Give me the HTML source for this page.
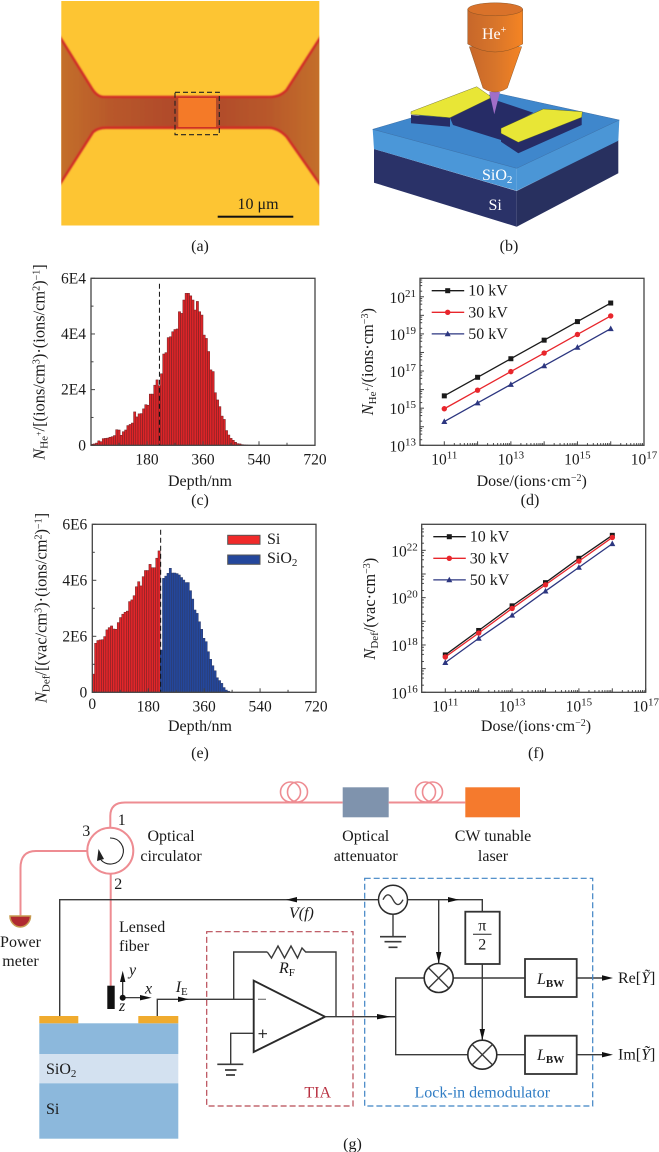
<!DOCTYPE html>
<html>
<head>
<meta charset="utf-8">
<title>Helium ion device figure</title>
<style>
html,body{margin:0;padding:0;background:#fff;}
svg{display:block;position:absolute;left:0;top:0;}
text{font-family:"Liberation Serif","Noto Serif CJK SC",serif;fill:#1a1a1a;font-size:16px;}
.t{font-size:15.5px;}
.i{font-style:italic;}
.w{fill:#fff;}
.yt{font-size:16.4px;}
.wire{fill:none;stroke:#3a3a3a;stroke-width:1.4;}
.fib{fill:none;stroke:#ee8c92;stroke-width:2;}
.box{fill:#fff;stroke:#333;stroke-width:1.8;}
</style>
</head>
<body>
<svg id="fig" xmlns="http://www.w3.org/2000/svg" width="659" height="1152" viewBox="0 0 659 1152">
<defs>
<linearGradient id="chan" x1="0" x2="1" y1="0" y2="0">
<stop offset="0" stop-color="#c4702c"/><stop offset=".2" stop-color="#b8582a"/><stop offset=".5" stop-color="#ae4628"/><stop offset=".8" stop-color="#b8582a"/><stop offset="1" stop-color="#c4702c"/>
</linearGradient>
<linearGradient id="cyl" x1="0" x2="1" y1="0" y2="0">
<stop offset="0" stop-color="#c7672a"/><stop offset=".5" stop-color="#d8752a"/><stop offset="1" stop-color="#f58423"/>
</linearGradient>
<filter id="b1" x="-5%" y="-5%" width="110%" height="110%"><feGaussianBlur stdDeviation="0.9"/></filter>
<clipPath id="aclip"><rect x="61.3" y="1" width="258" height="224.5"/></clipPath>
</defs>

<!-- Panel a -->
<g>
<rect x="61.3" y="1" width="258" height="224.5" fill="#fdc533"/>
<g clip-path="url(#aclip)">
<path d="M58 34L91.700 88.300Q97 97 104 97H270Q280 97 286.700 90L322 35V187L286.700 136.700Q278 127.700 268 127.700H106Q98 127.700 93 132L58 187Z" fill="url(#chan)" stroke="#cf2c28" stroke-width="2.600" filter="url(#b1)"/>
<rect x="178.300" y="98" width="37.700" height="29" fill="#f47a28"/>
</g>
<rect x="175" y="92.300" width="44.300" height="42.400" fill="none" stroke="#222" stroke-width="1.100" stroke-dasharray="5 3"/>
<rect x="217.700" y="215.700" width="75.600" height="2" fill="#111"/>
<text x="258" y="209" text-anchor="middle">10 μm</text>
</g>
<text x="200" y="251" text-anchor="middle">(a)</text>

<!-- Panel b -->
<g>
<polygon points="374,149 516.700,191 516.700,226.700 374,182.700" fill="#2a3268"/>
<polygon points="516.700,191 618.300,140 618.300,173.300 516.700,226.700" fill="#28305f"/>
<polygon points="372.700,129.300 516.700,168.300 516.700,190.700 374,149" fill="#4b97d8"/>
<polygon points="516.700,168.300 619.300,120 618.300,140.700 516.700,190.700" fill="#4b96d6"/>
<polygon points="372.700,129.300 496,93 619.300,120 516.700,168.300" fill="#3f87cc" stroke="#2c6098" stroke-width=".4"/>
<polygon points="450,117.700 490,98.300 533.300,112.700 501,130 501,140 453,125" fill="#262c66"/>
<polygon points="411,115 450,117.700 450,126.700 411,123.300" fill="#262c66"/>
<polygon points="411,111.700 476.700,86.700 490,96 490,98.300 450,117.700 411,114.300" fill="#e8e636" stroke="#5c5c20" stroke-width=".4"/>
<polygon points="501,133.300 518.300,142.300 581.700,117.300 581.700,125 518.300,153.300 501,141.700" fill="#262c66"/>
<polygon points="501,128.300 543.300,109 582.300,111.700 581.700,117.300 518.300,142.300 501,133.300" fill="#e8e636" stroke="#5c5c20" stroke-width=".4"/>
<polygon points="489.300,92 500,92 494.300,114.300" fill="#a06ec8"/>
<path d="M469.300 46.700L483 88Q495 96 507.300 88L521.700 46.700Z" fill="url(#cyl)" stroke="#7a4a20" stroke-width=".4"/>
<path d="M467.700 9.300V44Q495 60 522.700 44V9.300Z" fill="url(#cyl)" stroke="#7a4a20" stroke-width=".4"/>
<ellipse cx="495.200" cy="9.300" rx="27.500" ry="6.500" fill="#d9722a" stroke="#7a4a20" stroke-width=".4"/>
<text class="w" x="482" y="39">He<tspan font-size="10" dy="-6" class="w">+</tspan></text>
<text class="w" x="482" y="180">SiO<tspan font-size="11" dy="3" class="w">2</tspan></text>
<text class="w" x="488.500" y="210">Si</text>
</g>
<text x="509" y="251" text-anchor="middle">(b)</text>

<!-- Panel c static -->
<g id="chartC"></g>
<text class="yt" transform="translate(44.300,362) rotate(-90)" text-anchor="middle"><tspan class="i">N</tspan><tspan font-size="11" dy="3">He</tspan><tspan font-size="8" dy="-6">+</tspan><tspan dy="3">/[(ions/cm</tspan><tspan font-size="10" dy="-5">3</tspan><tspan dy="5">)·(ions/cm</tspan><tspan font-size="10" dy="-5">2</tspan><tspan dy="5">)</tspan><tspan font-size="10" dy="-5">−1</tspan><tspan dy="5">]</tspan></text>
<text x="200" y="486" text-anchor="middle">Depth/nm</text>
<text x="200" y="505" text-anchor="middle">(c)</text>

<!-- Panel d -->
<g id="chartD"></g>
<text class="yt" transform="translate(373,361.700) rotate(-90)" text-anchor="middle"><tspan class="i">N</tspan><tspan font-size="11" dy="3">He</tspan><tspan font-size="8" dy="-6">+</tspan><tspan dy="3">/(ions·cm</tspan><tspan font-size="10" dy="-5">−3</tspan><tspan dy="5">)</tspan></text>
<text x="531.700" y="486" text-anchor="middle">Dose/(ions·cm<tspan font-size="10" dy="-5">−2</tspan><tspan dy="5">)</tspan></text>
<text x="530" y="505" text-anchor="middle">(d)</text>

<!-- Panel e -->
<g id="chartE"></g>
<text class="yt" transform="translate(46.700,608) rotate(-90)" text-anchor="middle"><tspan class="i">N</tspan><tspan font-size="11" dy="3">Def</tspan><tspan dy="-3">/[(vac/cm</tspan><tspan font-size="10" dy="-5">3</tspan><tspan dy="5">)·(ions/cm</tspan><tspan font-size="10" dy="-5">2</tspan><tspan dy="5">)</tspan><tspan font-size="10" dy="-5">−1</tspan><tspan dy="5">]</tspan></text>
<text x="200" y="731" text-anchor="middle">Depth/nm</text>
<text x="200" y="758" text-anchor="middle">(e)</text>

<!-- Panel f -->
<g id="chartF"></g>
<text class="yt" transform="translate(375,608.700) rotate(-90)" text-anchor="middle"><tspan class="i">N</tspan><tspan font-size="11" dy="3">Def</tspan><tspan dy="-3">/(vac·cm</tspan><tspan font-size="10" dy="-5">−3</tspan><tspan dy="5">)</tspan></text>
<text x="536" y="731" text-anchor="middle">Dose/(ions·cm<tspan font-size="10" dy="-5">−2</tspan><tspan dy="5">)</tspan></text>
<text x="536" y="758" text-anchor="middle">(f)</text>

<!-- Panel g -->
<g>
<g>
<path class="fib" d="M110.300 827V816Q110.300 802.500 125 802.500H342.700"/>
<circle cx="290.500" cy="792" r="10" fill="none" stroke="#ee8c92" stroke-width="1.600"/>
<circle cx="297.500" cy="792" r="10" fill="none" stroke="#ee8c92" stroke-width="1.600"/>
<rect x="342.700" y="787.300" width="46" height="30" fill="#7f93ad"/>
<path class="fib" d="M388.700 802.500H465.300"/>
<circle cx="425.500" cy="792" r="10" fill="none" stroke="#ee8c92" stroke-width="1.600"/>
<circle cx="432.500" cy="792" r="10" fill="none" stroke="#ee8c92" stroke-width="1.600"/>
<rect x="465.300" y="787.300" width="54.700" height="30" fill="#f57a2d"/>
<circle cx="110.300" cy="850.700" r="23" fill="#fff" stroke="#ee8c92" stroke-width="2"/>
<path d="M110 838A13 13 0 1 1 101 860" fill="none" stroke="#222" stroke-width="1.100"/>
<polygon points="98.500,849 97,861 104,859" fill="#222"/>
<path class="fib" d="M87 851H36Q20.500 851 20.500 868V918"/>
<path class="fib" d="M110.700 874V986"/>
<rect x="107.300" y="985.700" width="7.400" height="23.300" fill="#111"/>
<path d="M10 916H30.500A10.250 11 0 0 1 10 916Z" fill="#b02a30" stroke="#c79a50" stroke-width="1.500"/>
<text x="121.700" y="825" text-anchor="middle">1</text>
<text x="86.300" y="836" text-anchor="middle">3</text>
<text x="118.300" y="889" text-anchor="middle">2</text>
<text x="171" y="841" text-anchor="middle">Optical</text>
<text x="171" y="861" text-anchor="middle">circulator</text>
<text x="365.700" y="841" text-anchor="middle">Optical</text>
<text x="365.700" y="861" text-anchor="middle">attenuator</text>
<text x="493" y="841" text-anchor="middle">CW tunable</text>
<text x="493" y="861" text-anchor="middle">laser</text>
<text x="20.500" y="947" text-anchor="middle">Power</text>
<text x="20.500" y="966" text-anchor="middle">meter</text>
<text x="119" y="932">Lensed</text>
<text x="119" y="951">fiber</text>
</g>

<g>
<rect x="39.300" y="1023.300" width="139" height="30.700" fill="#8cb8dc"/>
<rect x="39.300" y="1054" width="139" height="29.300" fill="#d3e1f0"/>
<rect x="39.300" y="1083.300" width="139" height="55.400" fill="#8cb8dc"/>
<rect x="39.300" y="1016" width="39" height="7.300" fill="#f0ab2e"/>
<rect x="138.300" y="1016" width="40" height="7.300" fill="#f0ab2e"/>
<text x="46" y="1074">SiO<tspan font-size="11" dy="3">2</tspan></text>
<text x="46" y="1114">Si</text>
</g>

<g>
<path d="M122.700 997.700V975M122.700 997.700H146" fill="none" stroke="#222" stroke-width="1.200"/>
<polygon points="122.700,970.700 120,982 125.400,982" fill="#111"/>
<polygon points="151.700,997.700 140,995 140,1000.400" fill="#111"/>
<circle cx="122.700" cy="997.700" r="3" fill="#111"/>
<text class="i" x="129" y="975">y</text>
<text class="i" x="145" y="993.500">x</text>
<text class="i" x="119" y="1011">z</text>
</g>

<g>
<path class="wire" d="M59.700 1016V899.700H378.500"/>
<polygon points="286,899.700 297,897 297,902.400" fill="#111"/>
<text class="i" x="289" y="918">V(f)</text>
<path class="wire" d="M157.300 1016V999.300H253.700"/>
<polygon points="189,999.300 178,996.600 178,1002" fill="#111"/>
<text x="175.700" y="992"><tspan class="i">I</tspan><tspan font-size="11" dy="3">E</tspan></text>
<path class="wire" d="M233.700 999.300V952H267.300"/>
<path class="wire" d="M267.300 952L271.500 958L278 946L284.500 958L291 946L297.500 958L302 948L305.700 952H336V1016.700"/>
<text x="279" y="973"><tspan class="i">R</tspan><tspan font-size="11" dy="3">F</tspan></text>
<path class="wire" d="M253.700 1033.300H230.700V1064.300"/>
<path class="wire" style="stroke-width:1.700" d="M217.300 1064.300H243.300M225 1070H236.500M226 1075H235"/>
<polygon points="253.700,980.700 253.700,1052 325,1016.700" fill="#fff" stroke="#2a2a2a" stroke-width="1.900"/>
<path d="M258 999.300H266" stroke="#777" stroke-width="1.200" fill="none"/>
<path d="M258.500 1033.700H267M262.700 1029.500V1038" stroke="#222" stroke-width="1.100" fill="none"/>
<path class="wire" d="M325 1016.700H395.700"/>
<polygon points="391,1016.700 377,1014 377,1019.400" fill="#111"/>
<path class="wire" d="M424.200 978H395.700V1054.700H467.800"/>
<circle cx="393" cy="899.700" r="14.500" fill="#fff" stroke="#2a2a2a" stroke-width="1.500"/>
<path class="wire" d="M383 899.700Q388 890 393 899.700T403 899.700"/>
<path class="wire" d="M393 914.200V936.700"/>
<path class="wire" style="stroke-width:1.700" d="M380 936.700H406M384.500 941.700H401.500M388.500 947.300H397.500"/>
<path class="wire" d="M407.500 899.700H482.300V911.700"/>
<polygon points="459,899.700 448,897 448,902.400" fill="#111"/>
<path class="wire" d="M438.700 899.700V963"/>
<polygon points="438.700,963.500 436,952 441.400,952" fill="#111"/>
<path class="wire" d="M482.300 964V1040"/>
<polygon points="482.300,1040.200 479.600,1029 485,1029" fill="#111"/>
<rect class="box" x="465.300" y="911.700" width="34.400" height="52.300"/>
<text x="482.300" y="930.500" text-anchor="middle">π</text>
<path d="M473 934.300H491.500" stroke="#222" stroke-width="1" fill="none"/>
<text x="482.300" y="949.500" text-anchor="middle">2</text>
<path class="wire" d="M453.200 978H525"/>
<path class="wire" d="M496.800 1054.700H525"/>
<path class="wire" d="M576.700 978H603"/>
<path class="wire" d="M576.700 1054.700H603"/>
<polygon points="613,978 602,975.300 602,980.700" fill="#111"/>
<polygon points="613,1054.700 602,1052 602,1057.400" fill="#111"/>
<circle cx="438.700" cy="978" r="14.500" fill="#fff" stroke="#2a2a2a" stroke-width="1.600"/>
<path class="wire" d="M428.400 967.700L449 988.300M449 967.700L428.400 988.300"/>
<circle cx="482.300" cy="1054.700" r="14.500" fill="#fff" stroke="#2a2a2a" stroke-width="1.600"/>
<path class="wire" d="M472 1044.400L492.600 1065M492.600 1044.400L472 1065"/>
<rect class="box" x="525" y="959" width="51.700" height="38"/>
<rect class="box" x="525" y="1035.700" width="51.700" height="38.300"/>
<text x="537" y="984"><tspan class="i">L</tspan><tspan font-size="11" dy="3" font-weight="bold">BW</tspan></text>
<text x="537" y="1060"><tspan class="i">L</tspan><tspan font-size="11" dy="3" font-weight="bold">BW</tspan></text>
<text x="618" y="983">Re[<tspan class="i">Ỹ</tspan>]</text>
<text x="618" y="1059.500">Im[<tspan class="i">Ỹ</tspan>]</text>
</g>
<rect x="206.700" y="931.700" width="146.300" height="174.300" fill="none" stroke="#b84a55" stroke-width="1.200" stroke-dasharray="6 3"/>
<text x="317.700" y="1097.500" text-anchor="middle" style="fill:#b83040">TIA</text>
<rect x="364.700" y="878.300" width="228" height="227.700" fill="none" stroke="#3f83c4" stroke-width="1.200" stroke-dasharray="6 3"/>
<text x="482.300" y="1097.500" text-anchor="middle" style="fill:#2f7cc4">Lock-in demodulator</text>
</g>
<text x="352.500" y="1149" text-anchor="middle">(g)</text>
</svg>

<script>
// ---- Chart data ----
const ionCountsK = [0.4,0.5,0.8,1.6,1.3,2.4,2.5,2.6,2.9,3.1,3.5,5.6,5.5,3.6,4.9,5.5,7.1,7.5,8.0,12.0,10.2,11.3,11.4,13.1,14.6,14.4,18.4,18.4,21.6,23.5,21.4,25.7,32.8,33.3,38.7,39.0,40.8,41.6,41.8,48.0,47.4,52.2,54.6,54.6,53.7,52.2,48.6,51.7,48.0,46.8,39.6,38.4,33.7,27.1,26.5,18.9,16.3,13.9,10.5,9.3,5.3,3.7,2.5,1.8,1.1,0.6,0.5,0.25,0.15,0.1,0.05];
const vacSi = [6.5,17.5,18.5,18.7,18.8,19.9,22.3,23.1,23.7,22.6,22.5,24.9,26.7,27.9,28.6,29.0,32.4,33.0,34.5,37.7,39.5,38.0,41.3,43.5,43.5,45.7,44.5,44.5,47.9,50.5];
const vacSiO2 = [15.1,40.7,41.5,42.5,44.3,42.6,42.6,42.4,41.9,41.0,40.1,39.2,39.2,36.3,33.3,29.4,28.2,25.2,22.5,19.3,18.1,14.5,11.8,9.5,7.7,5.2,4.2,3.2,1.7,0.8,0.4,0.1];
const depthTicks = [180,360,540,720];
const ionYTickValues = [0,20,40,60];
const ionYTickLabels = ['0','2E4','4E4','6E4'];
const vacYTickValues = [0,20,40,60];
const vacYTickLabels = ['0','2E6','4E6','6E6'];
const interfaceDepth = 220;
const legendE = ['Si','SiO2'];

const doses = [1e11,1e12,1e13,1e14,1e15,1e16];
const seriesNames = ['10 kV','30 kV','50 kV'];
const ion10 = [4.6e15,4.6e16,4.6e17,4.6e18,4.6e19,4.6e20];
const ion30 = [9.3e14,9.3e15,9.3e16,9.3e17,9.3e18,9.3e19];
const ion50 = [1.9e14,1.9e15,1.9e16,1.9e17,1.9e18,1.9e19];
const def10 = [3.8e17,4.1e18,4.5e19,4.3e20,4.6e21,4.3e22];
const def30 = [3.1e17,3.2e18,3.5e19,3.5e20,3.5e21,3.5e22];
const def50 = [1.8e17,1.9e18,1.8e19,1.9e20,1.9e21,1.9e22];
const doseTickExps = [11,13,15,17];
const ionYTickExps = [13,15,17,19,21];
const defYTickExps = [16,18,20,22];

// ---- Drawing helpers ----
const NS = 'http://www.w3.org/2000/svg';
function mk(parent, tag, attrs) {
  const el = document.createElementNS(NS, tag);
  for (const k in attrs) el.setAttribute(k, attrs[k]);
  parent.appendChild(el);
  return el;
}
function linear(d0, d1, r0, r1) { return v => r0 + (v - d0) / (d1 - d0) * (r1 - r0); }
function logScale(e0, e1, r0, r1) { return v => r0 + (Math.log10(v) - e0) / (e1 - e0) * (r1 - r0); }

function frame(g, L, T, R, B) {
  const r = mk(g, 'rect', {x:L, y:T, width:R-L, height:B-T, fill:'none', stroke:'#444', 'stroke-width':1.3});
  
  
}
function tick(g, x1, y1, x2, y2) {
  const t = mk(g, 'line', {x1:x1, y1:y1, x2:x2, y2:y2, stroke:'#444', 'stroke-width':1});
  
  
}
function label(g, x, y, str, anchor) {
  const t = mk(g, 'text', {x:x, y:y, 'text-anchor':anchor, class:'t'});
  
  
  t.textContent = str;
  return t;
}
function powerLabel(g, x, y, exp, anchor) {
  const t = mk(g, 'text', {x:x, y:y, 'text-anchor':anchor, class:'t'});
  
  
  t.appendChild(document.createTextNode('10'));
  const s = mk(t, 'tspan', {dy:-6, 'font-size':11});
  s.textContent = String(exp);
}

function histogram(g, L, T, R, B, yMax, yTicks, yLabels, series) {
  const x = linear(0, 720, L, R);
  const y = linear(0, yMax, B, T);
  series.forEach(s => {
    s.values.forEach((v, i) => {
      const x0 = x(s.start + i * s.bin);
      const x1 = x(s.start + (i + 1) * s.bin);
      const b = mk(g, 'rect', {x:x0, y:y(v), width:x1-x0, height:B-y(v), fill:s.fill, stroke:s.edge, 'stroke-width':0.5});
      
      
    });
  });
  const d = mk(g, 'line', {x1:x(interfaceDepth), x2:x(interfaceDepth), y1:T+5.5, y2:B, stroke:'#111', 'stroke-width':1, 'stroke-dasharray':'5 3'});
  
  
  frame(g, L, T, R, B);
  yTicks.forEach((v, i) => {
    tick(g, L, y(v), L+4, y(v));
    label(g, L-5, y(v)+5, yLabels[i], 'end');
    if (i < yTicks.length-1) {
      const mid = (v + yTicks[i+1]) / 2;
      tick(g, L, y(mid), L+2.5, y(mid));
    }
  });
  depthTicks.forEach(v => {
    tick(g, x(v), B, x(v), B-4);
    tick(g, x(v-90), B, x(v-90), B-2.5);
    label(g, x(v), B+19, String(v), 'middle');
  });
}

function logChart(g, L, T, R, B, xScale, yScale, yExps, yMinor, series, legendY, legendX) {
  frame(g, L, T, R, B);
  for (let e = 11; e < 17; e++) {
    tick(g, xScale(Math.pow(10,e)), B, xScale(Math.pow(10,e)), B-4);
    for (let m = 2; m < 10; m++) {
      const px = xScale(m * Math.pow(10,e));
      tick(g, px, B, px, B-2.2);
    }
  }
  tick(g, xScale(1e17), B, xScale(1e17), B-4);
  doseTickExps.forEach(e => powerLabel(g, xScale(Math.pow(10,e)), B+19, e, 'middle'));
  for (let e = yMinor[0]; e < yMinor[1]; e++) {
    const p = Math.pow(10,e);
    if (yScale(p) >= T && yScale(p) <= B) tick(g, L, yScale(p), L+4, yScale(p));
    for (let m of [2,4,6,8]) {
      const py = yScale(m * p);
      if (py >= T && py <= B) tick(g, L, py, L+2.2, py);
    }
  }
  yExps.forEach(e => powerLabel(g, L-4, yScale(Math.pow(10,e))+6, e, 'end'));
  series.forEach(s => {
    const pts = s.values.map((v,i) => xScale(doses[i]) + ',' + yScale(v)).join(' ');
    const line = mk(g, 'polyline', {points:pts, fill:'none', stroke:s.color, 'stroke-width':1.3});
    
    
    s.values.forEach((v,i) => marker(g, s, xScale(doses[i]), yScale(v)));
  });
  series.forEach((s, i) => {
    const ly = legendY + i * 21.6;
    const l = mk(g, 'line', {x1:legendX, x2:legendX+32.5, y1:ly, y2:ly, stroke:s.color, 'stroke-width':1.3});
    
    
    marker(g, s, legendX+16, ly);
    const t = mk(g, 'text', {x:legendX+36.5, y:ly+5});
    
    
    t.textContent = seriesNames[i];
  });
}
function marker(g, s, x, y) {
  let m;
  if (s.shape === 'square') {
    m = mk(g, 'rect', {x:x-2.5, y:y-2.5, width:5, height:5, fill:s.color});
  } else if (s.shape === 'circle') {
    m = mk(g, 'circle', {cx:x, cy:y, r:2.7, fill:s.color});
  } else {
    m = mk(g, 'polygon', {points:(x)+','+(y-3.2)+' '+(x-3)+','+(y+2.4)+' '+(x+3)+','+(y+2.4), fill:s.color});
  }
  
  
}

// ---- Panel c ----
const gC = document.getElementById('chartC');
histogram(gC, 91, 278.3, 315, 445.3, 60, ionYTickValues, ionYTickLabels, [
  {values:ionCountsK, start:0, bin:7.2, fill:'#dd2428', edge:'#6e2224', name:'ion-bar'}
]);

// ---- Panel e ----
const gE = document.getElementById('chartE');
histogram(gE, 92.3, 524.3, 316, 692.3, 60, vacYTickValues, vacYTickLabels, [
  {values:vacSi, start:0, bin:7.29, fill:'#e2262a', edge:'#6e2224', name:'si-vacancy-bar'},
  {values:vacSiO2, start:218.7, bin:7.2, fill:'#24479c', edge:'#2c3a66', name:'sio2-vacancy-bar'}
]);
label(gE, 92.3, 709, '0', 'middle');
const legRect1 = mk(gE, 'rect', {x:227.7, y:535.3, width:32.3, height:9, fill:'#f02a2a', stroke:'#555', 'stroke-width':1});


const legRect2 = mk(gE, 'rect', {x:227.7, y:555, width:32.3, height:9.3, fill:'#24479c', stroke:'#555', 'stroke-width':1});


const legText1 = mk(gE, 'text', {x:267, y:544});


legText1.textContent = legendE[0];
const legText2 = mk(gE, 'text', {x:267, y:563});


legText2.textContent = 'SiO';
const legSub = mk(legText2, 'tspan', {dy:3, 'font-size':11});
legSub.textContent = '2';

// ---- Panel d ----
const gD = document.getElementById('chartD');
const dX = logScale(11, 17, 444.3, 644);
const dY = logScale(13, 22, 445.3, 278.2);
logChart(gD, 420, 278.3, 644, 445.3, dX, dY, ionYTickExps, [13,22], [
  {values:ion10, color:'#1a1a1a', shape:'square'},
  {values:ion30, color:'#e8262c', shape:'circle'},
  {values:ion50, color:'#2c3680', shape:'triangle'}
], 290.7, 431.7);

// ---- Panel f ----
const gF = document.getElementById('chartF');
const fX = logScale(11, 17, 445.3, 645.7);
const fY = logScale(16, 23.1, 692.3, 524.3);
logChart(gF, 421.7, 524.3, 645.7, 692.3, fX, fY, defYTickExps, [16,23], [
  {values:def10, color:'#1a1a1a', shape:'square'},
  {values:def30, color:'#e8262c', shape:'circle'},
  {values:def50, color:'#2c3680', shape:'triangle'}
], 536.7, 433.3);
</script>
</body>
</html>
